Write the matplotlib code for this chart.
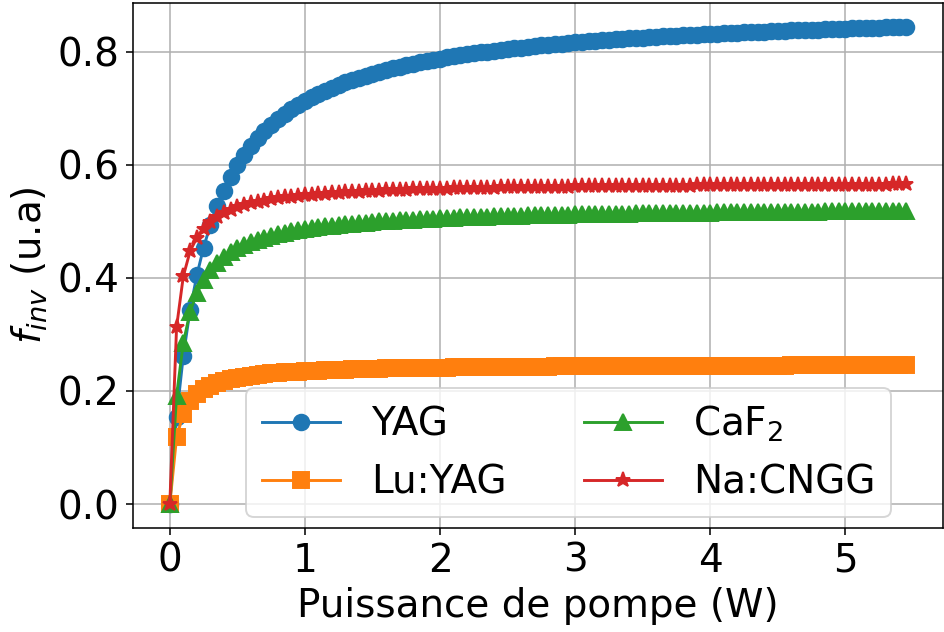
import matplotlib
matplotlib.use("Agg")
import matplotlib.pyplot as plt

# Pump power (W)
power = [0.00, 0.05, 0.10, 0.15, 0.20, 0.25, 0.30, 0.35, 0.40, 0.45,
         0.50, 0.55, 0.60, 0.65, 0.70, 0.75, 0.80, 0.85, 0.90, 0.95,
         1.00, 1.05, 1.10, 1.15, 1.20, 1.25, 1.30, 1.35, 1.40, 1.45,
         1.50, 1.55, 1.60, 1.65, 1.70, 1.75, 1.80, 1.85, 1.90, 1.95,
         2.00, 2.05, 2.10, 2.15, 2.20, 2.25, 2.30, 2.35, 2.40, 2.45,
         2.50, 2.55, 2.60, 2.65, 2.70, 2.75, 2.80, 2.85, 2.90, 2.95,
         3.00, 3.05, 3.10, 3.15, 3.20, 3.25, 3.30, 3.35, 3.40, 3.45,
         3.50, 3.55, 3.60, 3.65, 3.70, 3.75, 3.80, 3.85, 3.90, 3.95,
         4.00, 4.05, 4.10, 4.15, 4.20, 4.25, 4.30, 4.35, 4.40, 4.45,
         4.50, 4.55, 4.60, 4.65, 4.70, 4.75, 4.80, 4.85, 4.90, 4.95,
         5.00, 5.05, 5.10, 5.15, 5.20, 5.25, 5.30, 5.35, 5.40, 5.45]

yag = [0.0000, 0.1544, 0.2627, 0.3429, 0.4046, 0.4536, 0.4935, 0.5265, 0.5543, 0.5781,
       0.5986, 0.6166, 0.6323, 0.6463, 0.6588, 0.6701, 0.6802, 0.6894, 0.6978, 0.7055,
       0.7126, 0.7191, 0.7251, 0.7307, 0.7359, 0.7407, 0.7453, 0.7495, 0.7535, 0.7573,
       0.7608, 0.7641, 0.7673, 0.7703, 0.7731, 0.7758, 0.7784, 0.7808, 0.7831, 0.7854,
       0.7875, 0.7895, 0.7914, 0.7933, 0.7951, 0.7968, 0.7984, 0.8000, 0.8015, 0.8030,
       0.8044, 0.8057, 0.8071, 0.8083, 0.8095, 0.8107, 0.8119, 0.8130, 0.8140, 0.8151,
       0.8161, 0.8170, 0.8180, 0.8189, 0.8198, 0.8207, 0.8215, 0.8223, 0.8231, 0.8239,
       0.8246, 0.8254, 0.8261, 0.8268, 0.8274, 0.8281, 0.8288, 0.8294, 0.8300, 0.8306,
       0.8312, 0.8317, 0.8323, 0.8328, 0.8334, 0.8339, 0.8344, 0.8349, 0.8354, 0.8359,
       0.8363, 0.8368, 0.8372, 0.8377, 0.8381, 0.8385, 0.8389, 0.8393, 0.8397, 0.8401,
       0.8405, 0.8409, 0.8412, 0.8416, 0.8419, 0.8423, 0.8426, 0.8430, 0.8433, 0.8436]

lu_yag = [0.0000, 0.1181, 0.1600, 0.1815, 0.1945, 0.2033, 0.2096, 0.2143, 0.2180, 0.2210,
          0.2234, 0.2255, 0.2272, 0.2287, 0.2299, 0.2311, 0.2320, 0.2329, 0.2337, 0.2344,
          0.2351, 0.2357, 0.2362, 0.2367, 0.2371, 0.2375, 0.2379, 0.2383, 0.2386, 0.2389,
          0.2392, 0.2395, 0.2398, 0.2400, 0.2402, 0.2404, 0.2406, 0.2408, 0.2410, 0.2412,
          0.2414, 0.2415, 0.2417, 0.2418, 0.2420, 0.2421, 0.2422, 0.2423, 0.2424, 0.2425,
          0.2427, 0.2428, 0.2429, 0.2429, 0.2430, 0.2431, 0.2432, 0.2433, 0.2433, 0.2434,
          0.2435, 0.2436, 0.2436, 0.2437, 0.2438, 0.2439, 0.2439, 0.2440, 0.2440, 0.2441,
          0.2442, 0.2442, 0.2443, 0.2443, 0.2444, 0.2444, 0.2445, 0.2445, 0.2446, 0.2446,
          0.2446, 0.2447, 0.2447, 0.2448, 0.2448, 0.2448, 0.2449, 0.2449, 0.2449, 0.2450,
          0.2450, 0.2450, 0.2451, 0.2451, 0.2451, 0.2452, 0.2452, 0.2452, 0.2452, 0.2453,
          0.2453, 0.2453, 0.2454, 0.2454, 0.2454, 0.2454, 0.2455, 0.2455, 0.2455, 0.2455]

caf2 = [0.0000, 0.1920, 0.2850, 0.3401, 0.3730, 0.3961, 0.4131, 0.4262, 0.4365, 0.4449,
        0.4519, 0.4578, 0.4628, 0.4671, 0.4708, 0.4742, 0.4771, 0.4797, 0.4821, 0.4842,
        0.4861, 0.4879, 0.4895, 0.4910, 0.4924, 0.4936, 0.4948, 0.4959, 0.4969, 0.4978,
        0.4987, 0.4996, 0.5004, 0.5011, 0.5018, 0.5025, 0.5031, 0.5037, 0.5042, 0.5048,
        0.5053, 0.5058, 0.5062, 0.5067, 0.5071, 0.5075, 0.5079, 0.5083, 0.5086, 0.5090,
        0.5093, 0.5096, 0.5099, 0.5102, 0.5105, 0.5108, 0.5110, 0.5113, 0.5115, 0.5118,
        0.5120, 0.5122, 0.5124, 0.5127, 0.5129, 0.5130, 0.5132, 0.5134, 0.5136, 0.5138,
        0.5140, 0.5141, 0.5143, 0.5144, 0.5146, 0.5147, 0.5149, 0.5150, 0.5152, 0.5153,
        0.5154, 0.5156, 0.5157, 0.5158, 0.5159, 0.5160, 0.5162, 0.5163, 0.5164, 0.5165,
        0.5166, 0.5167, 0.5168, 0.5169, 0.5170, 0.5171, 0.5172, 0.5173, 0.5173, 0.5174,
        0.5175, 0.5176, 0.5177, 0.5178, 0.5178, 0.5179, 0.5180, 0.5181, 0.5181, 0.5182]

na_cngg = [0.0000, 0.3130, 0.4030, 0.4470, 0.4710, 0.4870, 0.4990, 0.5080, 0.5145, 0.5198,
           0.5244, 0.5282, 0.5314, 0.5342, 0.5365, 0.5386, 0.5405, 0.5421, 0.5435, 0.5448,
           0.5460, 0.5471, 0.5481, 0.5490, 0.5498, 0.5506, 0.5513, 0.5519, 0.5525, 0.5531,
           0.5536, 0.5541, 0.5546, 0.5550, 0.5554, 0.5558, 0.5562, 0.5566, 0.5569, 0.5572,
           0.5575, 0.5578, 0.5581, 0.5583, 0.5586, 0.5588, 0.5590, 0.5593, 0.5595, 0.5597,
           0.5599, 0.5601, 0.5602, 0.5604, 0.5606, 0.5607, 0.5609, 0.5610, 0.5612, 0.5613,
           0.5615, 0.5616, 0.5617, 0.5618, 0.5619, 0.5621, 0.5622, 0.5623, 0.5624, 0.5625,
           0.5626, 0.5627, 0.5628, 0.5629, 0.5630, 0.5630, 0.5631, 0.5632, 0.5633, 0.5634,
           0.5634, 0.5635, 0.5636, 0.5637, 0.5637, 0.5638, 0.5639, 0.5639, 0.5640, 0.5641,
           0.5641, 0.5642, 0.5642, 0.5643, 0.5643, 0.5644, 0.5644, 0.5645, 0.5645, 0.5646,
           0.5646, 0.5647, 0.5647, 0.5648, 0.5648, 0.5649, 0.5649, 0.5650, 0.5650, 0.5650]

labels = ["YAG", "Lu:YAG", r"CaF$_2$", "Na:CNGG"]
series = [yag, lu_yag, caf2, na_cngg]
markers = ["o", "s", "^", "*"]
colors = ["#1f77b4", "#ff7f0e", "#2ca02c", "#d62728"]

plt.rcParams["font.family"] = ["DejaVu Sans"]
plt.rcParams["font.size"] = 20

DPI = 140
fig = plt.figure(figsize=(944 / DPI, 632 / DPI), dpi=DPI)
ax = fig.add_axes([133 / 944, 1 - 528 / 632, (943 - 133) / 944, (528 - 3) / 632])

for vals, lab, mk, col in zip(series, labels, markers, colors):
    ax.plot(power, vals, marker=mk, color=col, label=lab, markersize=8, linewidth=1.5)

ax.grid(True)
ax.set_xlabel("Puissance de pompe (W)")
ax.set_ylabel(r"$f_{inv}$ (u.a)")
ax.set_yticks([0.0, 0.2, 0.4, 0.6, 0.8])
ax.set_xticks([0, 1, 2, 3, 4, 5])
ax.legend(ncol=2, loc="lower right", bbox_to_anchor=(0.936, 0.021), borderaxespad=0)

fig.savefig("out.png", dpi=DPI)
